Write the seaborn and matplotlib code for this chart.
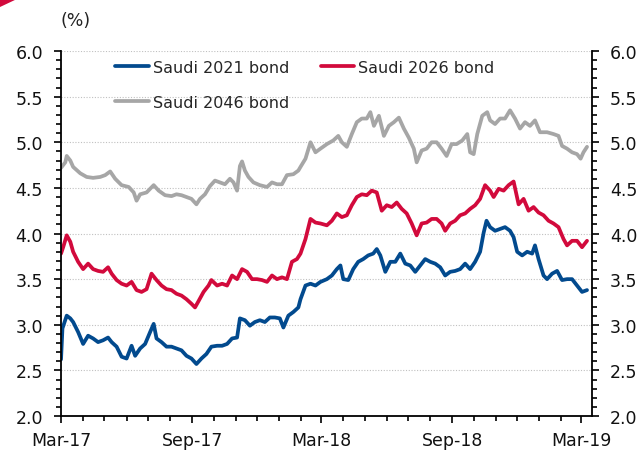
import numpy as np
import pandas as pd
import matplotlib
matplotlib.use("Agg")
import matplotlib.pyplot as plt
import matplotlib.dates as mdates
from matplotlib.patches import Polygon
from matplotlib.ticker import MultipleLocator, FormatStrFormatter
import seaborn as sns

START = "2017-03-01"

# Saudi 2021 bond yield (%), days counted from 1 Mar 2017
b2021_days = [0, 2, 8, 13, 17, 24, 31, 38, 45, 52, 59, 66, 71, 78, 85, 92, 99, 104, 111,
              118, 125, 130, 134, 141, 148, 155, 162, 169, 176, 183, 190, 197, 204, 211,
              219, 226, 233, 240, 247, 251, 258, 265, 272, 279, 286, 293, 300, 307, 312,
              319, 326, 333, 336, 343, 350, 357, 364, 373, 380, 387, 392, 396, 403, 410,
              417, 424, 431, 438, 443, 448, 455, 462, 469, 476, 483, 490, 497, 504, 511,
              518, 525, 532, 539, 546, 553, 560, 567, 574, 581, 588, 593, 597, 602, 609,
              616, 623, 630, 635, 640, 647, 654, 661, 665, 670, 677, 682, 689, 696, 703,
              710, 717, 724, 731, 738]
b2021_vals = [2.62, 2.96, 3.10, 3.07, 3.03, 2.92, 2.79, 2.88, 2.85, 2.81, 2.83, 2.86, 2.81,
              2.76, 2.65, 2.63, 2.77, 2.66, 2.74, 2.79, 2.92, 3.01, 2.85, 2.81, 2.76, 2.76,
              2.74, 2.72, 2.66, 2.63, 2.57, 2.63, 2.68, 2.76, 2.77, 2.77, 2.79, 2.85, 2.86,
              3.07, 3.05, 2.99, 3.03, 3.05, 3.03, 3.08, 3.08, 3.07, 2.97, 3.10, 3.14, 3.19,
              3.28, 3.43, 3.45, 3.43, 3.47, 3.50, 3.54, 3.61, 3.65, 3.50, 3.49, 3.61, 3.69,
              3.72, 3.76, 3.78, 3.83, 3.76, 3.58, 3.69, 3.69, 3.78, 3.67, 3.65, 3.58, 3.65,
              3.72, 3.69, 3.67, 3.63, 3.54, 3.58, 3.59, 3.61, 3.67, 3.61, 3.69, 3.80, 4.01,
              4.14, 4.07, 4.03, 4.05, 4.07, 4.03, 3.96, 3.80, 3.76, 3.80, 3.78, 3.87, 3.72,
              3.54, 3.50, 3.56, 3.59, 3.49, 3.50, 3.50, 3.43, 3.36, 3.38]

# Saudi 2026 bond yield (%)
b2026_days = [0, 3, 8, 13, 17, 24, 31, 38, 45, 52, 59, 66, 71, 78, 85, 92, 99, 106, 113,
              120, 127, 134, 141, 148, 155, 162, 169, 176, 183, 188, 193, 200, 207, 211,
              219, 226, 233, 240, 247, 254, 261, 268, 275, 282, 289, 296, 303, 310, 317,
              324, 331, 336, 343, 350, 357, 364, 373, 380, 387, 394, 401, 408, 415, 422,
              429, 436, 443, 450, 457, 464, 471, 478, 485, 492, 499, 506, 513, 520, 527,
              534, 539, 546, 553, 560, 567, 574, 581, 588, 595, 602, 607, 614, 621, 628,
              635, 642, 649, 656, 663, 670, 677, 684, 691, 698, 705, 710, 717, 724, 731,
              738]
b2026_vals = [3.78, 3.85, 3.98, 3.91, 3.80, 3.69, 3.61, 3.67, 3.61, 3.59, 3.58, 3.63, 3.56,
              3.49, 3.45, 3.43, 3.47, 3.38, 3.36, 3.39, 3.56, 3.49, 3.43, 3.39, 3.38, 3.34,
              3.32, 3.28, 3.23, 3.19, 3.26, 3.36, 3.43, 3.49, 3.43, 3.45, 3.43, 3.54, 3.50,
              3.61, 3.58, 3.50, 3.50, 3.49, 3.47, 3.54, 3.50, 3.52, 3.50, 3.69, 3.72, 3.78,
              3.94, 4.16, 4.12, 4.11, 4.09, 4.14, 4.22, 4.18, 4.20, 4.31, 4.40, 4.43, 4.42,
              4.47, 4.45, 4.25, 4.31, 4.29, 4.34, 4.27, 4.22, 4.11, 3.98, 4.11, 4.12, 4.16,
              4.16, 4.11, 4.03, 4.11, 4.14, 4.20, 4.22, 4.27, 4.31, 4.38, 4.53, 4.47, 4.40,
              4.49, 4.47, 4.53, 4.57, 4.32, 4.38, 4.25, 4.29, 4.23, 4.20, 4.14, 4.11, 4.07,
              3.94, 3.87, 3.92, 3.92, 3.85, 3.92]

# Saudi 2046 bond yield (%)
b2046_days = [0, 6, 8, 13, 17, 27, 36, 45, 55, 62, 69, 76, 85, 95, 102, 106, 111, 120, 130,
              137, 146, 155, 162, 169, 176, 183, 190, 195, 202, 209, 216, 223, 230, 237,
              242, 247, 251, 254, 258, 263, 270, 279, 289, 296, 303, 310, 317, 326, 333,
              336, 343, 350, 357, 364, 373, 382, 389, 394, 401, 408, 415, 422, 429, 434,
              439, 446, 453, 460, 467, 474, 481, 488, 495, 499, 506, 513, 520, 527, 534,
              541, 548, 555, 563, 570, 574, 579, 584, 591, 598, 602, 609, 616, 623, 630,
              637, 644, 651, 658, 665, 672, 682, 691, 698, 703, 710, 717, 724, 729, 733,
              738]
b2046_vals = [4.72, 4.78, 4.85, 4.80, 4.73, 4.66, 4.62, 4.61, 4.62, 4.64, 4.68, 4.60, 4.53,
              4.51, 4.45, 4.36, 4.43, 4.45, 4.53, 4.47, 4.42, 4.41, 4.43, 4.42, 4.40, 4.38,
              4.32, 4.38, 4.43, 4.52, 4.58, 4.56, 4.54, 4.60, 4.56, 4.47, 4.74, 4.79, 4.69,
              4.62, 4.56, 4.53, 4.51, 4.56, 4.54, 4.54, 4.64, 4.65, 4.69, 4.73, 4.82, 5.00,
              4.89, 4.93, 4.98, 5.02, 5.07, 5.00, 4.95, 5.09, 5.22, 5.26, 5.26, 5.33, 5.18,
              5.29, 5.07, 5.18, 5.22, 5.27, 5.15, 5.05, 4.93, 4.78, 4.91, 4.93, 5.00, 5.00,
              4.93, 4.85, 4.98, 4.98, 5.02, 5.09, 4.89, 4.87, 5.09, 5.29, 5.33, 5.24, 5.20,
              5.26, 5.26, 5.35, 5.26, 5.15, 5.22, 5.18, 5.24, 5.11, 5.11, 5.09, 5.07, 4.96,
              4.93, 4.89, 4.87, 4.82, 4.89, 4.95]

labels = ["Saudi 2021 bond", "Saudi 2026 bond", "Saudi 2046 bond"]
colors = ["#024a8e", "#d20a3c", "#a6a6a6"]


def series(days, vals, name):
    dates = pd.Timestamp(START) + pd.to_timedelta(days, unit="D")
    return pd.DataFrame({"date": dates, "yield": vals, "bond": name})


df = pd.concat([
    series(b2021_days, b2021_vals, labels[0]),
    series(b2026_days, b2026_vals, labels[1]),
    series(b2046_days, b2046_vals, labels[2]),
], ignore_index=True)

sns.set_theme(style="white")
plt.rcParams["font.family"] = ["DejaVu Sans"]

fig = plt.figure(figsize=(6.43, 4.52), dpi=100)
ax = fig.add_axes([0.0949, 0.0774, 0.8258, 0.8075])

sns.lineplot(data=df, x="date", y="yield", hue="bond", hue_order=labels,
             palette=colors, linewidth=2.7, ax=ax, legend=False)

ax.set_ylim(2.0, 6.0)
ax.set_xlim(pd.Timestamp(START), pd.Timestamp("2019-03-16"))
ax.set_xlabel("")
ax.set_ylabel("")

ax.yaxis.set_major_locator(MultipleLocator(0.5))
ax.yaxis.set_minor_locator(MultipleLocator(0.1))
ax.yaxis.set_major_formatter(FormatStrFormatter("%.1f"))
ax.xaxis.set_major_locator(mdates.MonthLocator(bymonth=[3, 9]))
ax.xaxis.set_minor_locator(mdates.MonthLocator())
ax.xaxis.set_major_formatter(mdates.DateFormatter("%b-%y"))

ax.tick_params(axis="both", which="both", direction="out", color="black",
               width=1.2, labelsize=12.5, labelcolor="#111111")
ax.tick_params(axis="y", which="both", left=True, right=True,
               labelleft=True, labelright=True, pad=8)
ax.tick_params(axis="x", which="both", bottom=True, pad=6)
ax.tick_params(which="major", length=5)
ax.tick_params(which="minor", length=3.5)

ax.yaxis.grid(True, which="major", linestyle=(0, (1, 1.5)), color="#c0c0c0", linewidth=0.8)
ax.xaxis.grid(False)
ax.set_axisbelow(True)

for side in ["left", "right", "bottom"]:
    ax.spines[side].set_visible(True)
    ax.spines[side].set_color("black")
    ax.spines[side].set_linewidth(1.3)
ax.spines["top"].set_visible(False)

# legend: 2021 and 2046 in the first column, 2026 in the second
lines = ax.get_lines()[:3]
handles = [lines[0], lines[2], lines[1]]
leg_labels = [labels[0], labels[2], labels[1]]
ax.legend(handles, leg_labels, loc="upper left", bbox_to_anchor=(0.1017, 0.976),
          ncol=2, frameon=False, fontsize=11.5, handlelength=2.1, handletextpad=0.25,
          columnspacing=2.0, labelspacing=1.25, borderpad=0, borderaxespad=0)

fig.text(76 / 643, 1 - 21 / 452, "(%)", ha="center", va="center", fontsize=12.5,
         color="#222222")

# red corner mark
fig.patches.append(Polygon([[0, 1], [17 / 643, 1], [0, 1 - 8 / 452]], closed=True,
                           transform=fig.transFigure, facecolor="#d20a3c",
                           edgecolor="none"))

fig.savefig("out.png", dpi=100)
